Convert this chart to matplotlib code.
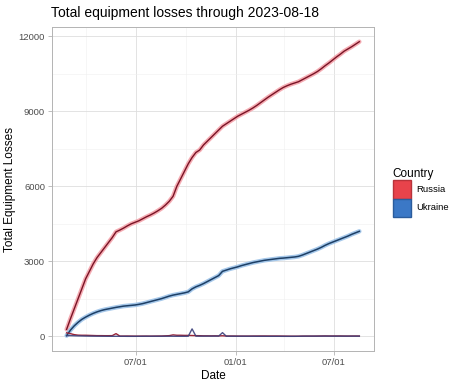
import pandas as pd
import matplotlib.pyplot as plt
import matplotlib.dates as mdates
from matplotlib.patches import Patch

plt.rcParams['font.family'] = ['Liberation Sans', 'DejaVu Sans']

# weekly readings, 2022-02-24 .. 2023-08-17
dates = pd.date_range('2022-02-24', '2023-08-17', freq='7D')

russia_total = [
    280, 700, 1100, 1500, 1900, 2300, 2600, 2900, 3150, 3350,
    3550, 3750, 3950, 4180, 4250, 4330, 4420, 4500, 4560, 4620,
    4700, 4780, 4850, 4930, 5020, 5120, 5250, 5400, 5600, 6000,
    6300, 6600, 6900, 7150, 7350, 7450, 7650, 7800, 7950, 8100,
    8250, 8400, 8500, 8600, 8700,
    8800, 8880, 8960, 9040, 9130, 9230, 9340, 9450, 9560, 9660,
    9760, 9860, 9950, 10020, 10080, 10130, 10180, 10260, 10340, 10420,
    10500, 10590, 10700, 10820, 10930, 11050, 11170, 11280, 11400, 11490,
    11580, 11680, 11780,
]
ukraine_total = [
    30, 250, 420, 560, 680, 770, 850, 920, 980, 1030,
    1070, 1100, 1130, 1160, 1185, 1210, 1225, 1240, 1255, 1280,
    1310, 1350, 1390, 1430, 1470, 1510, 1560, 1610, 1650, 1680,
    1710, 1740, 1780, 1900, 1980, 2040, 2110, 2190, 2270, 2350,
    2430, 2600, 2650, 2700, 2740,
    2780, 2830, 2870, 2910, 2950, 2980, 3010, 3040, 3060, 3080,
    3100, 3120, 3130, 3145, 3160, 3175, 3200, 3250, 3310, 3370,
    3430, 3490, 3560, 3640, 3710, 3770, 3830, 3890, 3950, 4010,
    4080, 4140, 4200,
]
russia_daily = [
    140, 110, 70, 50, 45, 45, 40, 35, 30, 30,
    28, 28, 30, 110, 12, 12, 14, 12, 10, 10,
    12, 12, 10, 12, 14, 15, 22, 30, 60, 45,
    45, 40, 40, 35, 30, 28, 22, 22, 20, 22,
    20, 25, 15, 15, 15,
    12, 12, 12, 12, 14, 15, 16, 16, 15, 15,
    15, 14, 12, 10, 8, 8, 8, 12, 12, 12,
    12, 14, 16, 18, 16, 16, 16, 17, 14, 13,
    14, 15, 14,
]
ukraine_daily = [
    30, 30, 25, 20, 17, 13, 11, 10, 9, 7,
    6, 4, 4, 4, 4, 4, 2, 2, 2, 4,
    4, 6, 6, 6, 6, 6, 7, 7, 6, 4,
    4, 4, 6, 300, 11, 9, 10, 11, 11, 11,
    11, 150, 7, 7, 6,
    6, 7, 6, 6, 6, 4, 4, 4, 3, 3,
    3, 3, 2, 2, 2, 2, 4, 7, 9, 9,
    9, 9, 10, 11, 10, 9, 9, 9, 9, 9,
    10, 9, 9,
]

fig = plt.figure(figsize=(4.6, 3.85), dpi=100)
ax = fig.add_axes([0.113, 0.088, 0.70, 0.842])

# light "smooth" bands under the data
ax.plot(dates, russia_total, color='#F4A3AB', lw=3.2, alpha=0.9, solid_capstyle='round', zorder=2)
ax.plot(dates, ukraine_total, color='#9CC2E8', lw=3.2, alpha=0.9, solid_capstyle='round', zorder=2)
ax.plot(dates, russia_total, color='#7A1426', lw=1.0, zorder=3)
ax.plot(dates, ukraine_total, color='#1D3F66', lw=1.1, zorder=3)
ax.plot(dates, russia_daily, color='#9A2438', lw=1.0, zorder=3)
ax.plot(dates, ukraine_daily, color='#3A3F7A', lw=1.0, alpha=0.9, zorder=3)

span = dates[-1] - dates[0]
ax.set_xlim(dates[0] - span * 0.05, dates[-1] + span * 0.05)
top = max(russia_total)
ax.set_ylim(-top * 0.05, top * 1.05)

ax.xaxis.set_major_locator(mdates.MonthLocator(bymonth=[1, 7]))
ax.xaxis.set_minor_locator(mdates.MonthLocator(bymonth=[4, 10]))
ax.xaxis.set_major_formatter(mdates.DateFormatter('%m/%d'))
ax.set_yticks([0, 3000, 6000, 9000, 12000])
ax.set_yticks([1500, 4500, 7500, 10500], minor=True)

ax.grid(which='major', color='#DEDEDE', lw=0.6)
ax.grid(which='minor', color='#EFEFEF', lw=0.4)
ax.set_axisbelow(True)
for s in ax.spines.values():
    s.set_color('#B3B3B3')
    s.set_linewidth(0.7)
ax.tick_params(which='major', length=3, width=0.6, color='#B3B3B3', labelsize=6.8,
               labelcolor='#4D4D4D', pad=2)
ax.tick_params(which='minor', length=0)

ax.set_xlabel('Date', fontsize=8.5, labelpad=2)
ax.set_ylabel('Total Equipment Losses', fontsize=8.5, labelpad=2)
fig.text(0.111, 0.966, 'Total equipment losses through 2023-08-18', fontsize=10, va='center')

handles = [Patch(facecolor='#E8434B', edgecolor='#B8333A', label='Russia'),
           Patch(facecolor='#3B78C6', edgecolor='#2B5C9C', label='Ukraine')]
fig.legend(handles=handles, title='Country', loc='center left', bbox_to_anchor=(0.835, 0.5),
           frameon=False, fontsize=6.8, title_fontsize=8.5, handlelength=1.9, handleheight=2.6,
           labelspacing=0.0, handletextpad=0.6, alignment='left')

fig.savefig('out.png', dpi=100)
